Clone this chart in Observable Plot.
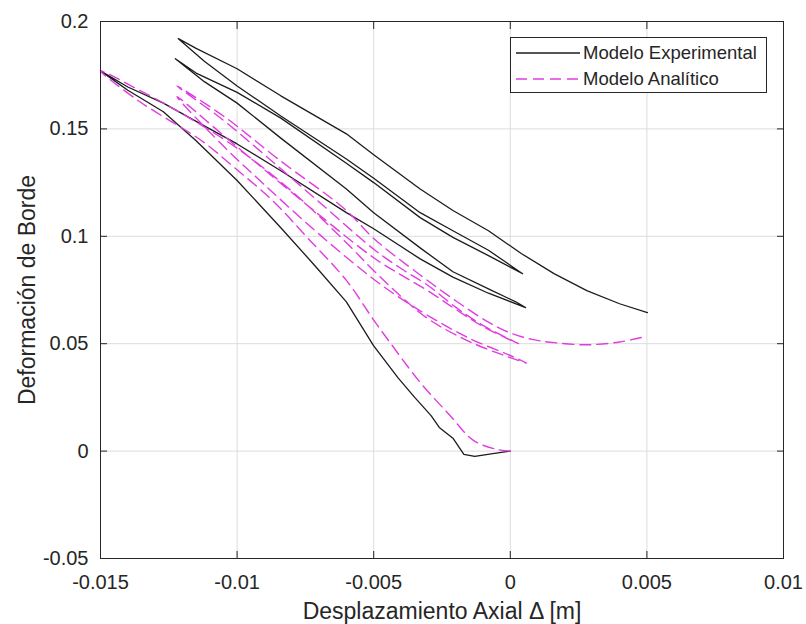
<!DOCTYPE html>
<html><head><meta charset="utf-8">
<script src="https://cdn.jsdelivr.net/npm/d3@7"></script>
<script src="https://cdn.jsdelivr.net/npm/@observablehq/plot@0.6"></script>
<style>
body{margin:0;background:#fff;}
#wrap{position:relative;width:806px;height:624px;font-family:"Liberation Sans",Arial,Helvetica,sans-serif;}
#legend{position:absolute;left:510px;top:37px;width:255px;height:54px;border:1px solid #262626;background:#fff;}
.row{position:absolute;left:5px;height:26px;display:flex;align-items:center;font-size:18.5px;color:#262626;white-space:nowrap;}
.row svg{margin-right:3px;}
</style></head><body><div id="wrap"><div id="legend"></div></div>
<script>
// Axis ticks
const xTicks = [-0.015, -0.01, -0.005, 0, 0.005, 0.01];
const yTicks = [-0.05, 0, 0.05, 0.1, 0.15, 0.2];
const xLabel = "Desplazamiento Axial \u0394 [m]";
const yLabel = "Deformación de Borde";
const seriesNames = ["Modelo Experimental", "Modelo Analítico"];

// Modelo Experimental (continuous path)
const expX = [
  0, -0.0007, -0.0013, -0.0017, -0.0021, -0.0026, -0.0029, -0.0035, -0.0041, -0.005, -0.006, -0.0072, -0.0084, -0.01, -0.0115, -0.0127, -0.014, -0.015,
  -0.014, -0.0127, -0.0115, -0.01, -0.0084, -0.006, -0.005, -0.0033, -0.0021, -0.0008, 0.00056,
  0.0002, -0.0008, -0.0021, -0.0033, -0.005, -0.006, -0.0084, -0.01, -0.0112, -0.01226,
  -0.0115, -0.01, -0.0084, -0.006, -0.005, -0.0033, -0.0021, -0.0008, 0.00045,
  -0.0008, -0.0021, -0.0033, -0.005, -0.006, -0.0084, -0.01, -0.0112, -0.01215,
  -0.0115, -0.01, -0.0084, -0.006, -0.005, -0.0033, -0.0021, -0.0008, 0.0004, 0.0016, 0.0028, 0.004, 0.00502
];
const expY = [
  0, -0.0013, -0.0025, -0.0015, 0.006, 0.011, 0.0165, 0.025, 0.034, 0.049, 0.0695, 0.087, 0.104, 0.126, 0.1445, 0.158, 0.168, 0.177,
  0.1695, 0.162, 0.1535, 0.143, 0.1305, 0.111, 0.1035, 0.0895, 0.081, 0.0735, 0.0668,
  0.0695, 0.0755, 0.0835, 0.0946, 0.111, 0.122, 0.1457, 0.162, 0.172, 0.1827,
  0.176, 0.167, 0.155, 0.134, 0.125, 0.1087, 0.0995, 0.091, 0.0826,
  0.0935, 0.1026, 0.111, 0.127, 0.136, 0.156, 0.170, 0.1815, 0.192,
  0.1875, 0.178, 0.1654, 0.1477, 0.138, 0.122, 0.112, 0.1026, 0.092, 0.0826, 0.0747, 0.0686, 0.0645
];

// Modelo Analítico (continuous path)
const anaX = [
  0, -0.0005, -0.00135, -0.0022, -0.0033, -0.0044, -0.005, -0.006, -0.0074, -0.0087, -0.0101, -0.0113, -0.0136, -0.015,
  -0.0135, -0.012, -0.010, -0.008, -0.006, -0.005, -0.004, -0.003, -0.0015, 0, 0.0006,
  0, -0.0015, -0.003, -0.004, -0.005, -0.007, -0.009, -0.0105, -0.0122,
  -0.0105, -0.009, -0.007, -0.005, -0.004, -0.003, -0.002, -0.001, 0.0003,
  -0.001, -0.002, -0.003, -0.004, -0.005, -0.007, -0.009, -0.0105, -0.0122,
  -0.0105, -0.0085, -0.006, -0.005, -0.0033, -0.002, -0.0008, 0, 0.0008, 0.0016, 0.0028, 0.004, 0.005
];
const anaY = [
  0, 0.0008, 0.005, 0.0165, 0.032, 0.0505, 0.061, 0.0795, 0.099, 0.1166, 0.132, 0.1445, 0.163, 0.177,
  0.1675, 0.157, 0.141, 0.121, 0.097, 0.084, 0.072, 0.0615, 0.051, 0.0435, 0.041,
  0.0445, 0.0525, 0.063, 0.071, 0.080, 0.101, 0.124, 0.142, 0.165,
  0.147, 0.131, 0.110, 0.090, 0.082, 0.0745, 0.066, 0.058, 0.050,
  0.0585, 0.067, 0.077, 0.085, 0.094, 0.116, 0.138, 0.154, 0.170,
  0.156, 0.136, 0.112, 0.099, 0.082, 0.070, 0.060, 0.055, 0.052, 0.0505, 0.0495, 0.0508, 0.0535
];

const expRows = expX.map((x, i) => ({x, y: expY[i]}));
const anaRows = anaX.map((x, i) => ({x, y: anaY[i]}));

const FONT = '"Liberation Sans", Arial, Helvetica, sans-serif';
const INK = "#262626";
const EXP_COLOR = "#1c1c1c";
const ANA_COLOR = "#e03ce0";
const DASH = "11,6";

const chart = Plot.plot({
  width: 806, height: 624,
  marginLeft: 100, marginRight: 23, marginTop: 21, marginBottom: 66,
  x: {domain: [-0.015, 0.01]},
  y: {domain: [-0.05, 0.2]},
  style: {fontFamily: FONT, fontSize: "20px", color: INK, background: "#fff", overflow: "visible"},
  marks: [
    Plot.gridX(xTicks, {stroke: "#dcdcdc", strokeOpacity: 1}),
    Plot.gridY(yTicks, {stroke: "#dcdcdc", strokeOpacity: 1}),
    Plot.line(expRows, {x: "x", y: "y", stroke: EXP_COLOR, strokeWidth: 1.3, strokeLinejoin: "round"}),
    Plot.line(anaRows, {x: "x", y: "y", stroke: ANA_COLOR, strokeWidth: 1.4, strokeDasharray: DASH, curve: "catmull-rom"}),
    Plot.frame({stroke: INK, strokeWidth: 1}),
    Plot.axisX(xTicks, {anchor: "bottom", tickSize: -7, tickPadding: 23, tickFormat: d => String(d), label: null, fontSize: 20, stroke: INK, fill: INK}),
    Plot.axisX(xTicks, {anchor: "top", tickSize: -7, tickFormat: () => "", label: null, stroke: INK}),
    Plot.axisY(yTicks, {anchor: "left", tickSize: -7, tickPadding: 19, tickFormat: d => String(d), label: null, fontSize: 20, stroke: INK, fill: INK}),
    Plot.axisY(yTicks, {anchor: "right", tickSize: -7, tickFormat: () => "", label: null, stroke: INK}),
    Plot.text([xLabel], {frameAnchor: "bottom", dy: 53, textAnchor: "middle", lineAnchor: "middle", text: d => d, fontSize: 23, fill: INK}),
    Plot.text([yLabel], {frameAnchor: "left", dx: -73, rotate: -90, textAnchor: "middle", lineAnchor: "middle", text: d => d, fontSize: 23, fill: INK})
  ]
});
const wrap = document.getElementById("wrap");
wrap.insertBefore(chart, wrap.firstChild);

const legend = document.getElementById("legend");
legend.innerHTML = `
<div class="row" style="top:2px"><svg width="64" height="4"><line x1="0" y1="2" x2="64" y2="2" stroke="${EXP_COLOR}" stroke-width="1.3"/></svg>${seriesNames[0]}</div>
<div class="row" style="top:28px"><svg width="64" height="4"><line x1="0" y1="2" x2="64" y2="2" stroke="${ANA_COLOR}" stroke-width="1.4" stroke-dasharray="${DASH}"/></svg>${seriesNames[1]}</div>`;
</script>
</body></html>
